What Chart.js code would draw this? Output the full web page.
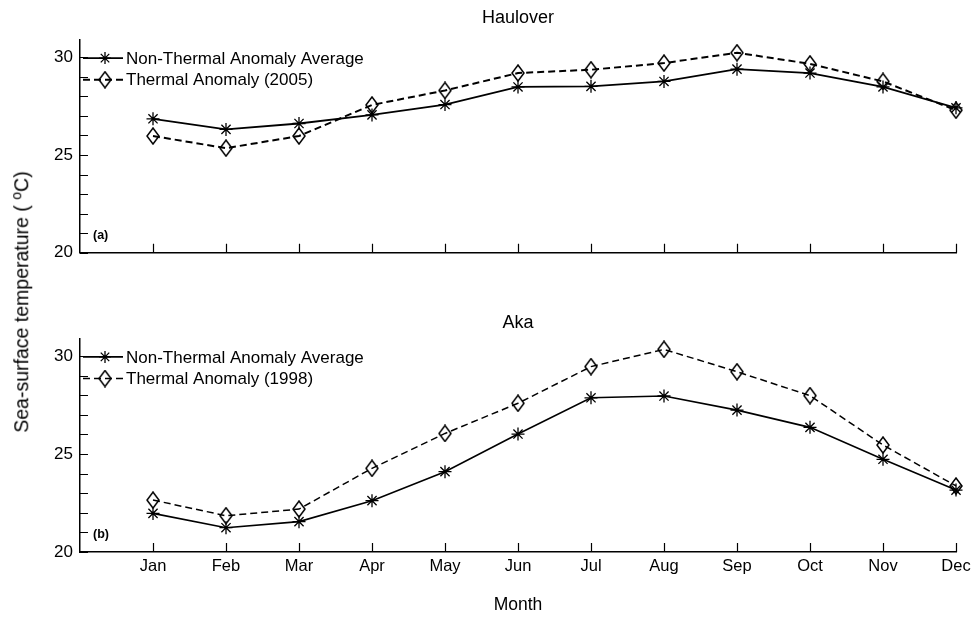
<!DOCTYPE html>
<html>
<head>
<meta charset="utf-8">
<script src="https://cdn.jsdelivr.net/npm/chart.js@4/dist/chart.umd.min.js"></script>
<style>
  html, body { margin: 0; padding: 0; background: #fff; }
  #wrap { position: relative; width: 971px; height: 617px; overflow: hidden; background: #fff; }
  canvas { position: absolute; left: 0; }
  #ytitle {
    position: absolute; left: 22px; top: 302px;
    transform: translate(-50%, -50%) rotate(-90deg);
    font-family: "Liberation Sans", Arial, sans-serif; font-size: 19.5px; color: #000;
    white-space: nowrap; line-height: 1;
  }
  #ytitle sup { font-size: 14px; vertical-align: 0; position: relative; top: -7px; }
</style>
</head>
<body>
<div id="wrap">
  <canvas id="top" width="971" height="270" style="top:0"></canvas>
  <canvas id="bot" width="971" height="347" style="top:270px"></canvas>
  <div id="ytitle">Sea-surface temperature ( <sup>o</sup>C)</div>
</div>
<script>
// ---- data ----
const months = ['Jan','Feb','Mar','Apr','May','Jun','Jul','Aug','Sep','Oct','Nov','Dec'];
const haulNonThermal = [26.85, 26.31, 26.61, 27.05, 27.58, 28.48, 28.51, 28.76, 29.39, 29.19, 28.48, 27.41];
const haulThermal2005 = [25.97, 25.35, 25.97, 27.56, 28.30, 29.19, 29.36, 29.70, 30.23, 29.66, 28.76, 27.29];
const akaNonThermal = [21.97, 21.24, 21.55, 22.62, 24.10, 26.02, 27.87, 27.96, 27.24, 26.36, 24.73, 23.16];
const akaThermal1998 = [22.65, 21.85, 22.19, 24.27, 26.05, 27.59, 29.46, 30.34, 29.20, 27.98, 25.46, 23.37];
const yTicks = [20, 21, 22, 23, 24, 25, 26, 27, 28, 29, 30];
const yLabelled = [20, 25, 30];
const panelTitles = ['Haulover', 'Aka'];
const panelTags = ['(a)', '(b)'];
const legendNonThermal = 'Non-Thermal Anomaly Average';
const legendThermal = ['Thermal Anomaly (2005)', 'Thermal Anomaly (1998)'];
const xTitle = 'Month';

const FONT = '"Liberation Sans", Arial, sans-serif';

// diamond marker (unfilled, taller than wide)
function makeDiamond() {
  const c = document.createElement('canvas');
  c.width = 14; c.height = 18;
  const g = c.getContext('2d');
  g.strokeStyle = '#000'; g.lineWidth = 1.5;
  g.beginPath();
  g.moveTo(7, 1); g.lineTo(13, 9); g.lineTo(7, 17); g.lineTo(1, 9); g.closePath();
  g.stroke();
  return c;
}
const diamondImg = makeDiamond();

function drawStar(ctx, x, y, r) {
  ctx.save();
  ctx.strokeStyle = '#000'; ctx.lineWidth = 1.3;
  ctx.beginPath();
  for (let k = 0; k < 4; k++) {
    const a = k * Math.PI / 4;
    ctx.moveTo(x - r * Math.sin(a), y - r * Math.cos(a));
    ctx.lineTo(x + r * Math.sin(a), y + r * Math.cos(a));
  }
  ctx.stroke();
  ctx.restore();
}

const decoPlugin = {
  id: 'deco',
  afterDraw(chart, args, opts) {
    const ctx = chart.ctx;
    const ca = chart.chartArea;
    const xs = chart.scales.x, ys = chart.scales.y;
    ctx.save();
    // inward tick marks
    ctx.strokeStyle = '#000'; ctx.lineWidth = 1.2;
    ctx.beginPath();
    ys.ticks.forEach((t, i) => {
      const py = Math.round(ys.getPixelForTick(i)) + 0.5;
      ctx.moveTo(ca.left, py); ctx.lineTo(ca.left + 8, py);
    });
    xs.ticks.forEach((t, i) => {
      const px = Math.round(xs.getPixelForTick(i)) + 0.5;
      ctx.moveTo(px, ca.bottom); ctx.lineTo(px, ca.bottom - 9);
    });
    ctx.stroke();
    // title
    ctx.fillStyle = '#000';
    ctx.font = '18px ' + FONT;
    ctx.textAlign = 'center'; ctx.textBaseline = 'middle';
    ctx.fillText(opts.title, (ca.left + ca.right) / 2, opts.titleY);
    // tag
    ctx.font = 'bold 12.5px ' + FONT;
    ctx.textAlign = 'left';
    ctx.fillText(opts.tag, ca.left + 13, ca.bottom - 17);
    // legend
    ctx.font = '17px ' + FONT;
    const rows = [
      { text: legendNonThermal, dash: [], marker: 'star', lw: opts.lw1 },
      { text: opts.thermal, dash: [7, 4], marker: 'diamond', lw: opts.lw2 }
    ];
    rows.forEach((r, i) => {
      const y = ca.top + 18.5 + i * 21.6;
      ctx.save();
      ctx.strokeStyle = '#000'; ctx.lineWidth = r.lw;
      ctx.setLineDash(r.dash);
      ctx.beginPath(); ctx.moveTo(ca.left + 3, y); ctx.lineTo(ca.left + 43, y); ctx.stroke();
      ctx.restore();
      if (r.marker === 'star') drawStar(ctx, ca.left + 25, y, 6);
      else ctx.drawImage(diamondImg, ca.left + 25 - 7, y - 9);
      ctx.fillStyle = '#000';
      ctx.textAlign = 'left'; ctx.textBaseline = 'middle';
      ctx.fillText(r.text, ca.left + 46, y + 1);
    });
    ctx.restore();
  }
};

function makeChart(id, nonThermal, thermal, idx, opt) {
  const toPts = arr => months.map((m, i) => ({ x: i, y: arr[i] }));
  return new Chart(document.getElementById(id), {
    type: 'line',
    data: {
      datasets: [
        {
          data: toPts(nonThermal), borderColor: '#000', borderWidth: opt.lw1,
          pointStyle: 'star', pointRadius: 6.5, pointBorderWidth: 1.3, pointBorderColor: '#000',
          pointBackgroundColor: '#000', tension: 0, clip: false
        },
        {
          data: toPts(thermal), borderColor: '#000', borderWidth: opt.lw2, borderDash: [7, 4],
          pointStyle: diamondImg, pointRadius: 7, tension: 0, clip: false
        }
      ]
    },
    options: {
      responsive: false, animation: false, devicePixelRatio: 1,
      layout: { padding: { top: opt.padTop, right: 15, bottom: opt.padBottom, left: 0 } },
      plugins: {
        legend: { display: false }, tooltip: { enabled: false }, title: { display: false },
        deco: { title: panelTitles[idx], tag: panelTags[idx], thermal: legendThermal[idx],
                titleY: opt.titleY, lw1: opt.lw1, lw2: opt.lw2 }
      },
      scales: {
        x: {
          type: 'linear', min: -1, max: 11,
          afterBuildTicks: s => { s.ticks = months.map((m, i) => ({ value: i })); },
          afterFit: s => { s.height = opt.xHeight; s.paddingLeft = 0; s.paddingRight = 0; },
          grid: { display: false, drawTicks: false },
          border: { display: true, color: '#000', width: 1.5 },
          ticks: {
            display: opt.showX, padding: 5, color: '#000', maxRotation: 0, autoSkip: false,
            font: { family: FONT, size: 16.5 },
            callback: v => months[v]
          },
          title: {
            display: opt.showX, text: xTitle, color: '#000',
            font: { family: FONT, size: 17.5 }, padding: { top: 4, bottom: 1 }
          }
        },
        y: {
          min: 20, max: 30.9,
          afterBuildTicks: s => { s.ticks = yTicks.map(v => ({ value: v })); },
          afterFit: s => { s.width = 80; },
          grid: { display: false, drawTicks: false },
          border: { display: true, color: '#000', width: 1.5 },
          ticks: {
            padding: 7, color: '#000', font: { family: FONT, size: 17 }, autoSkip: false,
            callback: v => yLabelled.includes(v) ? String(v) : ''
          }
        }
      }
    },
    plugins: [decoPlugin]
  });
}

makeChart('top', haulNonThermal, haulThermal2005, 0,
  { padTop: 39.6, padBottom: 5.7, xHeight: 10, showX: false, titleY: 18, lw1: 1.8, lw2: 2 });
makeChart('bot', akaNonThermal, akaThermal1998, 1,
  { padTop: 68.4, padBottom: 0, xHeight: 65, showX: true, titleY: 53, lw1: 1.6, lw2: 1.5 });
</script>
</body>
</html>
